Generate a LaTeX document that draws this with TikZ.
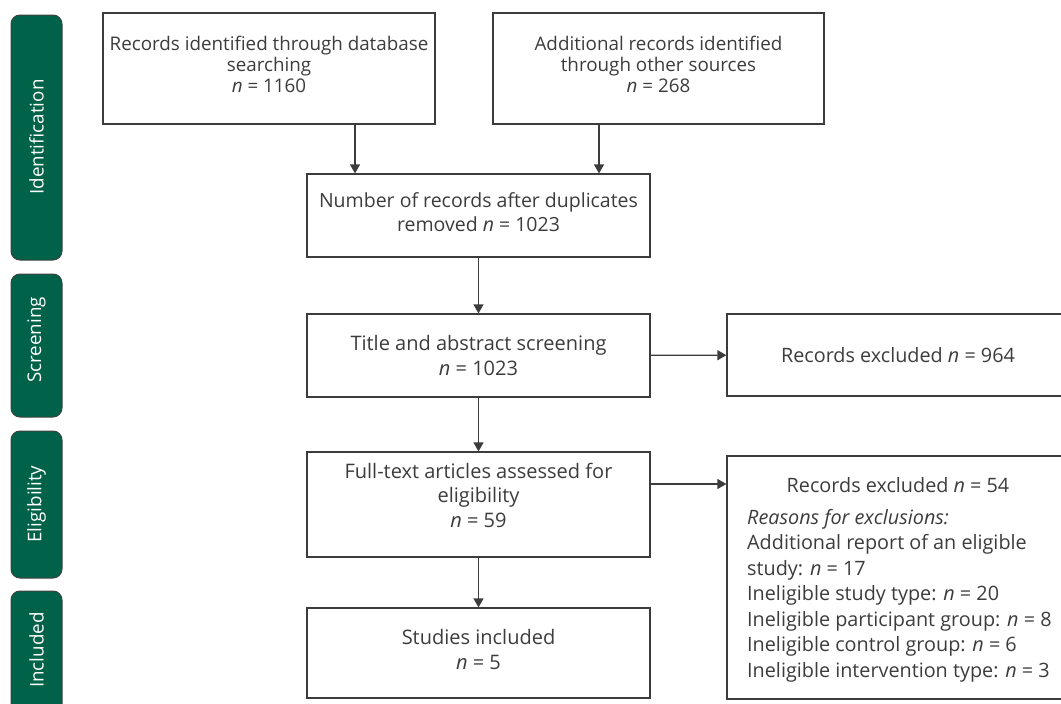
\documentclass[tikz,border=0pt]{standalone}
\usepackage{fontspec}
\setmainfont{Open Sans}
\usetikzlibrary{arrows.meta}
\definecolor{phasegreen}{RGB}{0,98,72}
\definecolor{txt}{RGB}{60,60,60}
\definecolor{edge}{RGB}{60,60,60}
\begin{document}
\begin{tikzpicture}[x=1pt,y=-1pt,
  box/.style={draw=edge, line width=1.2pt, rectangle, inner sep=0pt},
  lbl/.style n args={2}{text=txt, align=center, inner sep=0pt, font=\fontsize{#1}{#2}\selectfont},
  phase/.style={draw=black!75, fill=phasegreen, rounded corners=9pt, line width=1pt},
  phasetext/.style={text=white, rotate=90, inner sep=0pt, font=\fontsize{18.8}{20}\selectfont},
  arr/.style={draw=edge, line width=1.2pt, -{Triangle[width=10pt,length=9pt]}}]
\useasboundingbox (0,0) rectangle (1061,704);
% phases
\draw[phase] (11,15) rectangle (62,260);
\draw[phase] (11,274) rectangle (62,417);
\draw[phase] (11,431) rectangle (62,578);
\draw[phase] (11,591) rectangle (62,720);
\node[phasetext] (p1) at (36.5,137) {Identification};
\node[phasetext] (p2) at (36.5,340) {Screening};
\node[phasetext] (p3) at (36.5,504) {Eligibility};
\node[phasetext] (p4) at (36.5,650) {Included};
% boxes
\node[box, minimum width=332pt, minimum height=111pt] (b1) at (269,68.5) {};
\node[box, minimum width=331pt, minimum height=111pt] (b2) at (658.5,68.5) {};
\node[box, minimum width=343pt, minimum height=83pt] (b3) at (478.5,215.5) {};
\node[box, minimum width=343pt, minimum height=83pt] (b4) at (478.5,355.5) {};
\node[box, minimum width=343pt, minimum height=82pt] (b5) at (898.5,355) {};
\node[box, minimum width=343pt, minimum height=105pt] (b6) at (478.5,504.5) {};
\node[box, minimum width=343pt, minimum height=243pt] (b7) at (898.5,577.5) {};
\node[box, minimum width=343pt, minimum height=90pt] (b8) at (478.5,653) {};
% texts
\node[lbl={18.8}{21}] (t1) at (269,64) {Records identified through database\\searching\\\textit{n} = 1160};
\node[lbl={18.8}{21}] (t2) at (658.5,64) {Additional records identified\\through other sources\\\textit{n} = 268};
\node[lbl={19.5}{24}] (t3) at (478.5,212) {Number of records after duplicates\\removed \textit{n} = 1023};
\node[lbl={20}{25}] (t4) at (478.5,355) {Title and abstract screening\\\textit{n} = 1023};
\node[lbl={19.8}{25}] (t5) at (898,355) {Records excluded \textit{n} = 964};
\node[lbl={20}{24.5}] (t6) at (478.5,495) {Full-text articles assessed for\\eligibility\\\textit{n} = 59};
\node[lbl={20}{25}] (t8) at (478.5,649.5) {Studies included\\\textit{n} = 5};
\node[lbl={19.8}{25}] (t7a) at (898,485) {Records excluded \textit{n} = 54};
\node[lbl={19.8}{25.5}, align=left, anchor=north west] (t7b) at (747,509) {\textit{Reasons for exclusions:}\\Additional report of an eligible\\study: \textit{n} = 17\\Ineligible study type: \textit{n} = 20\\Ineligible participant group: \textit{n} = 8\\Ineligible control group: \textit{n} = 6\\Ineligible intervention type: \textit{n} = 3};
% connectors
\coordinate (c6) at (650,484);
\draw[arr] (b1.south -| 355,0) -- (b3.north -| 355,0);
\draw[arr] (b2.south -| 599,0) -- (b3.north -| 599,0);
\draw[arr] (b3) -- (b4);
\draw[arr] (b4) -- (b5);
\draw[arr] (b4) -- (b6);
\draw[arr] (c6) -- (c6 -| b7.west);
\draw[arr] (b6) -- (b8);
\end{tikzpicture}
\end{document}
